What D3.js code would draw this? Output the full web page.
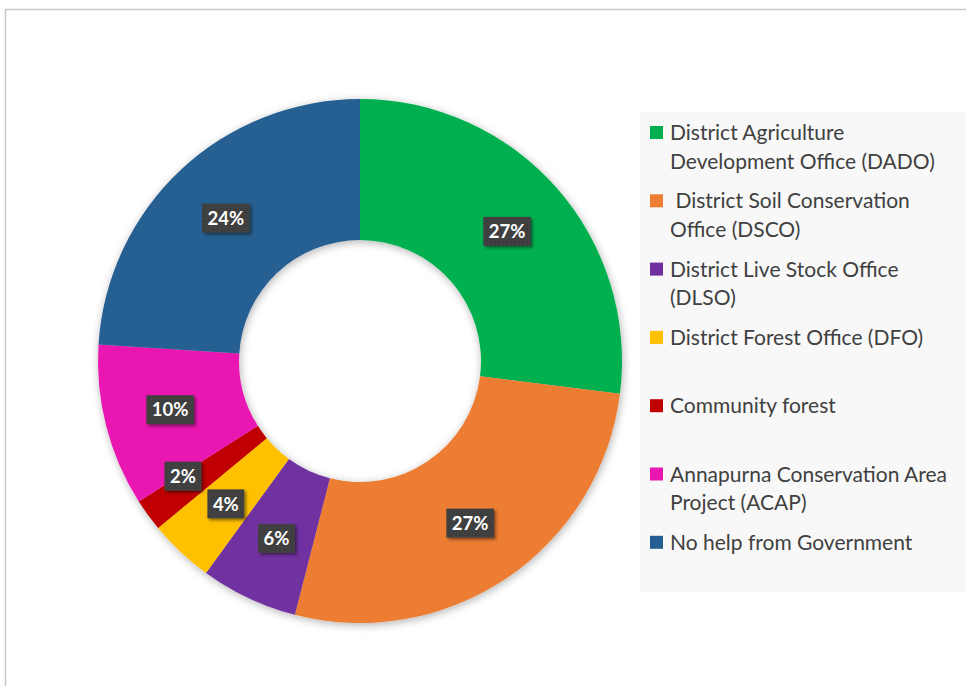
<!DOCTYPE html>
<html>
<head>
<meta charset="utf-8">
<script src="https://cdn.jsdelivr.net/npm/d3@7"></script>
<style>
  html, body { margin: 0; padding: 0; background: #fff; }
  svg { display: block; }
</style>
</head>
<body>
<svg id="chart" width="966" height="686"></svg>
<script>
// Sources of help to farmers, share of respondents (%)
const categories = [
  "District Agriculture Development Office (DADO)",
  " District Soil Conservation Office (DSCO)",
  "District Live Stock Office (DLSO)",
  "District Forest Office (DFO)",
  "Community forest",
  "Annapurna Conservation Area Project (ACAP)",
  "No help from Government"
];
const legendLines = [
  ["District Agriculture", "Development Office (DADO)"],
  [" District Soil Conservation", "Office (DSCO)"],
  ["District Live Stock Office", "(DLSO)"],
  ["District Forest Office (DFO)"],
  ["Community forest"],
  ["Annapurna Conservation Area", "Project (ACAP)"],
  ["No help from Government"]
];
const values = [27, 27, 6, 4, 2, 10, 24];
const colors = ["#00b050", "#ed7d31", "#7030a0", "#ffc000", "#c00000", "#e917b1", "#255e91"];

const svg = d3.select("#chart");
const defs = svg.append("defs");

// soft shadow around the ring
const ringShadow = defs.append("filter").attr("id", "ringShadow")
  .attr("x", "-20%").attr("y", "-20%").attr("width", "140%").attr("height", "140%");
ringShadow.append("feDropShadow").attr("dx", 1).attr("dy", 2)
  .attr("stdDeviation", 4).attr("flood-color", "#000").attr("flood-opacity", 0.3);

// shadow for the value boxes
const boxShadow = defs.append("filter").attr("id", "boxShadow")
  .attr("x", "-30%").attr("y", "-30%").attr("width", "160%").attr("height", "160%");
boxShadow.append("feDropShadow").attr("dx", 2).attr("dy", 2)
  .attr("stdDeviation", 1.5).attr("flood-color", "#000").attr("flood-opacity", 0.45);

// dotted texture of the value boxes
const pat = defs.append("pattern").attr("id", "dots")
  .attr("width", 4).attr("height", 4).attr("patternUnits", "userSpaceOnUse");
pat.append("rect").attr("width", 4).attr("height", 4).attr("fill", "#3e3e3e");
pat.append("rect").attr("x", 1).attr("y", 1).attr("width", 1).attr("height", 1).attr("fill", "#545454");
pat.append("rect").attr("x", 3).attr("y", 3).attr("width", 1).attr("height", 1).attr("fill", "#4a4a4a");

// chart frame
svg.append("rect")
  .attr("x", 5.5).attr("y", 9.5).attr("width", 1000).attr("height", 700)
  .attr("fill", "#fff").attr("stroke", "#c8c8c8").attr("stroke-width", 1.5);

// legend background
svg.append("rect")
  .attr("x", 640).attr("y", 112).attr("width", 340).attr("height", 480)
  .attr("fill", "#f8f8f8");

// donut
const cx = 360, cy = 361;
const outerR = 262, innerR = 121, labelR = 196;
const pie = d3.pie().sort(null).value(d => d).startAngle(0).endAngle(2 * Math.PI);
const arcs = pie(values);
const arc = d3.arc().innerRadius(innerR).outerRadius(outerR);
const labelArc = d3.arc().innerRadius(labelR).outerRadius(labelR);

const g = svg.append("g").attr("transform", `translate(${cx},${cy})`);
g.append("g").attr("filter", "url(#ringShadow)")
  .selectAll("path").data(arcs).join("path")
  .attr("d", arc)
  .attr("fill", (d, i) => colors[i]);

// value labels
const fmt = v => v + "%";
const labelFont = 18.5;
const lg = g.append("g");
const labels = arcs.map((d, i) => {
  const [x, y] = labelArc.centroid(d);
  return { i, x, y, value: d.data, text: fmt(d.data) };
});
// measure each label text
const tmp = lg.append("text").attr("font-family", "Lato, 'Open Sans', sans-serif")
  .attr("font-weight", 700).attr("font-size", labelFont);
labels.forEach(l => {
  tmp.text(l.text);
  l.tw = tmp.node().getComputedTextLength();
  l.w = l.tw + 11;
  l.h = 29;
});
tmp.remove();
// push overlapping labels apart (the smaller one moves sideways)
for (let pass = 0; pass < 5; pass++) {
  for (let a = 0; a < labels.length; a++) {
    for (let b = a + 1; b < labels.length; b++) {
      const A = labels[a], B = labels[b];
      const ox = (A.w + B.w) / 2 - Math.abs(A.x - B.x);
      const oy = (A.h + B.h) / 2 - Math.abs(A.y - B.y);
      if (ox > 0 && oy > 0) {
        const s = A.value <= B.value ? A : B;
        const o = s === A ? B : A;
        const dir = s.x < o.x ? -1 : 1;
        s.x += dir * (ox + 6);
      }
    }
  }
}
const lab = lg.selectAll("g.lab").data(labels).join("g").attr("class", "lab")
  .attr("transform", d => `translate(${d.x},${d.y})`);
lab.append("rect")
  .attr("x", d => -d.w / 2).attr("y", d => -d.h / 2)
  .attr("width", d => d.w).attr("height", d => d.h)
  .attr("fill", "url(#dots)")
  .attr("filter", "url(#boxShadow)");
lab.append("text")
  .attr("text-anchor", "middle").attr("dy", "0.36em")
  .attr("font-family", "Lato, 'Open Sans', sans-serif")
  .attr("font-weight", 700).attr("font-size", labelFont)
  .attr("fill", "#fff")
  .text(d => d.text);

// legend
const legendX = 650, legendY0 = 140, legendStep = 68.3, lineH = 28.7;
const leg = svg.append("g").selectAll("g").data(categories).join("g")
  .attr("transform", (d, i) => `translate(${legendX},${legendY0 + i * legendStep})`);
leg.append("rect")
  .attr("x", 0).attr("y", -14).attr("width", 13).attr("height", 13)
  .attr("fill", (d, i) => colors[i]);
leg.append("text")
  .attr("x", 20)
  .attr("font-family", "Lato, 'Open Sans', sans-serif")
  .attr("font-size", 21)
  .attr("fill", "#404040")
  .style("white-space", "pre")
  .selectAll("tspan").data((d, i) => legendLines[i]).join("tspan")
  .attr("x", 20).attr("dy", (d, j) => j === 0 ? 0 : lineH)
  .text(d => d);
</script>
</body>
</html>
